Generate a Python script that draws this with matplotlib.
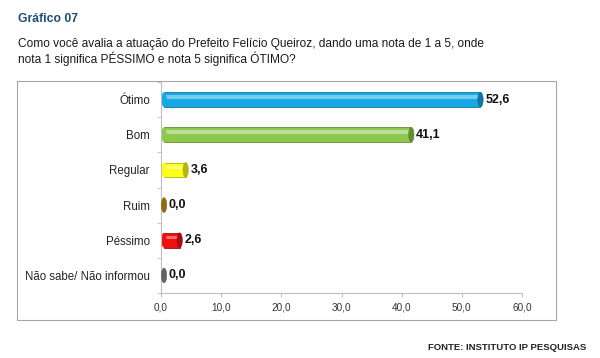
import matplotlib.pyplot as plt
from matplotlib.patches import Ellipse, Rectangle
import matplotlib.colors as mcolors

plt.rcParams['font.family'] = ['Liberation Sans', 'DejaVu Sans']

# --- dados ---
categorias = ['Ótimo', 'Bom', 'Regular', 'Ruim', 'Péssimo', 'Não sabe/ Não informou']
valores = [52.6, 41.1, 3.6, 0.0, 2.6, 0.0]
cores = ['#16A9E6', '#8DC84C', '#FFFF1A', '#C9971F', '#F01010', '#8C8C8C']
ticks_x = [0, 10, 20, 30, 40, 50, 60]

fig = plt.figure(figsize=(6, 3.58), dpi=100)

# moldura externa do gráfico
fig.patches.append(Rectangle((17 / 600, 1 - 320 / 358), 539 / 600, 239 / 358,
                             transform=fig.transFigure, fill=False,
                             edgecolor='#A6A6A6', linewidth=0.8))

fig.text(18 / 600, 1 - 19 / 358, 'Gráfico 07', fontsize=8.8, fontweight='bold',
         color='#1F4E79', va='center')
fig.text(18 / 600, 1 - 44 / 358,
         'Como você avalia a atuação do Prefeito Felício Queiroz, dando uma nota de 1 a 5, onde',
         fontsize=8.6, color='#1a1a1a', va='center')
fig.text(18 / 600, 1 - 59 / 358, 'nota 1 significa PÉSSIMO e nota 5 significa ÓTIMO?',
         fontsize=8.6, color='#1a1a1a', va='center')
fig.text(586 / 600, 1 - 348 / 358, 'FONTE: INSTITUTO IP PESQUISAS', fontsize=6.8,
         fontweight='bold', color='#222222', ha='right', va='center')

ax = fig.add_axes([161 / 600, 1 - 293 / 358, 361 / 600, 211 / 358])
y = list(range(len(categorias)))[::-1]
h = 0.42

for yi, v, c in zip(y, valores, cores):
    escuro = [k * 0.7 for k in mcolors.to_rgb(c)]
    claro = [min(1, k * 0.6 + 0.4) for k in mcolors.to_rgb(c)]
    if v > 0:
        ax.barh(yi, v, height=h, left=0.5, color=c, edgecolor=escuro, linewidth=0.6, zorder=2)
        # brilho na parte de cima da barra
        ax.barh(yi + h * 0.18, v, height=h * 0.22, left=0.5, color=claro, linewidth=0, zorder=2)
        ax.add_patch(Ellipse((0.5, yi), 0.9, h, facecolor=c, edgecolor='none', zorder=2))
    ax.add_patch(Ellipse((0.5 + v, yi), 0.9, h, facecolor=escuro, edgecolor=escuro,
                         linewidth=0.4, zorder=3))
    ax.text(0.5 + v + 0.8, yi, f'{v:.1f}'.replace('.', ','), fontsize=9, fontweight='bold',
            va='center', ha='left', color='#111111')

ax.set_xlim(0, 60)
ax.set_ylim(-0.5, 5.5)
ax.set_xticks(ticks_x)
ax.set_xticklabels([f'{t:.1f}'.replace('.', ',') for t in ticks_x], fontsize=7.2, color='#333333')
ax.set_yticks(y)
ax.set_yticklabels(categorias, fontsize=8.3, color='#222222')
ax.set_yticks([i + 0.5 for i in range(-1, 6)], minor=True)
ax.tick_params(axis='y', which='major', length=0, pad=8)
ax.tick_params(axis='y', which='minor', length=3, color='#BFBFBF')
ax.tick_params(axis='x', length=3, color='#BFBFBF', pad=4)
for s in ['top', 'right']:
    ax.spines[s].set_visible(False)
for s in ['left', 'bottom']:
    ax.spines[s].set_color('#BFBFBF')
    ax.spines[s].set_linewidth(0.8)

fig.savefig('out.png', dpi=100)
